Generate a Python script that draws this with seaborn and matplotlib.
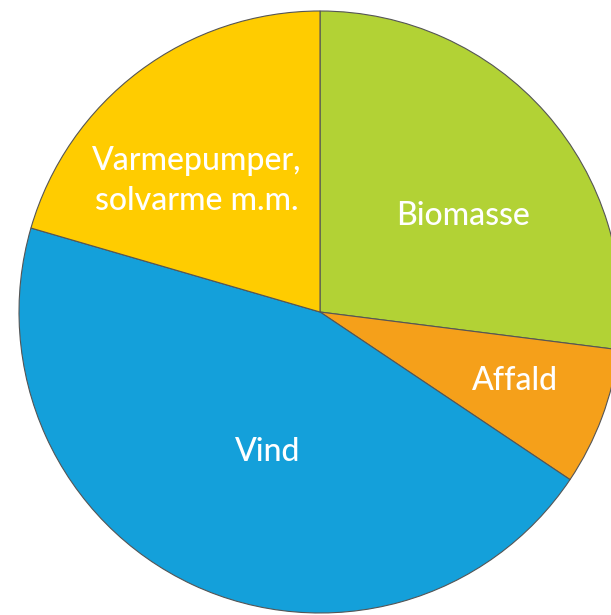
import matplotlib
matplotlib.use("Agg")
import matplotlib.pyplot as plt
import seaborn as sns

# andele (%), med uret fra toppen
labels = ["Biomasse", "Affald", "Vind", "Varmepumper,\nsolvarme m.m."]
shares = [27.0, 7.4, 45.1, 20.5]
colors = ["#b2d235", "#f5a01a", "#14a0da", "#ffcc00"]

sns.set_theme(style="white")
plt.rcParams["font.family"] = ["Lato", "DejaVu Sans"]

W, H = 611, 615
fig = plt.figure(figsize=(W / 100, H / 100), dpi=100)
fig.patch.set_facecolor("white")

cx, cy, r = 320, 312, 301
ax = fig.add_axes([(cx - r) / W, 1 - (cy + r) / H, 2 * r / W, 2 * r / H])
wedges, _ = ax.pie(shares, colors=colors, startangle=90, counterclock=False,
                   radius=1.0, wedgeprops=dict(edgecolor="#555555", linewidth=0.8))
ax.set_xlim(-1, 1)
ax.set_ylim(-1, 1)
ax.set_aspect("auto")
ax.axis("off")

# etiketpositioner i pixel
pos = [(463, 216), (515, 381), (268, 452), (197, 181)]
for lab, (px, py) in zip(labels, pos):
    fig.text(px / W, 1 - py / H, lab, ha="center", va="center", color="white",
             fontsize=23, fontweight="medium", linespacing=1.38)

fig.savefig("out.png", dpi=100)
